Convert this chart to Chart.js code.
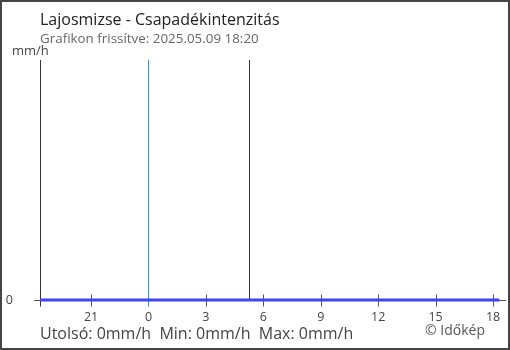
<!DOCTYPE html>
<html>
<head>
<meta charset="utf-8">
<script src="https://cdn.jsdelivr.net/npm/chart.js@4.4.1/dist/chart.umd.min.js"></script>
<style>
  html, body { margin: 0; padding: 0; background: #fff; }
  #wrap { position: relative; width: 510px; height: 350px; font-family: "Open Sans", sans-serif; }
  #frame { position: absolute; left: 0; top: 0; width: 510px; height: 350px; box-sizing: border-box; border: 2px solid #444; pointer-events: none; }
  .txt { position: absolute; line-height: 1; white-space: pre; }
</style>
</head>
<body>
<div id="wrap">
  <canvas id="chart" width="510" height="350"></canvas>
  <div class="txt" style="left:40px; top:11px; font-size:16px; color:#222;">Lajosmizse - Csapadékintenzitás</div>
  <div class="txt" style="left:40px; top:32px; font-size:13.4px; color:#666;">Grafikon frissítve: 2025.05.09 18:20</div>
  <div class="txt" style="left:12px; top:43.5px; font-size:13px; color:#444;">mm/h</div>
  <div class="txt" style="left:40px; top:325px; font-size:16px; color:#444;">Utolsó: 0mm/h  Min: 0mm/h  Max: 0mm/h</div>
  <div class="txt" style="left:425px; top:322.5px; font-size:14px; color:#555;">© Időkép</div>
  <div id="frame"></div>
</div>
<script>
// hours relative to midnight of 2025.05.09 (negative = previous day)
const hours = [-5.667, -5, -4, -3, -2, -1, 0, 1, 2, 3, 4, 5, 6, 7, 8, 9, 10, 11, 12, 13, 14, 15, 16, 17, 18, 18.333];
const rain = [0, 0, 0, 0, 0, 0, 0, 0, 0, 0, 0, 0, 0, 0, 0, 0, 0, 0, 0, 0, 0, 0, 0, 0, 0, 0];
const tickHours = [-3, 0, 3, 6, 9, 12, 15, 18];
const tickLabels = ["21", "0", "3", "6", "9", "12", "15", "18"];
const midnight = 0;
const sunrise = 5.23;

const axisLines = {
  id: "axisLines",
  beforeDatasetsDraw(chart) {
    const ctx = chart.ctx;
    const x = chart.scales.x;
    const a = chart.chartArea;
    const y0 = Math.round(a.bottom) + 0.5;
    ctx.save();
    ctx.lineWidth = 1;
    // x axis line
    ctx.strokeStyle = "#555";
    ctx.beginPath();
    ctx.moveTo(34, y0);
    ctx.lineTo(506, y0);
    ctx.stroke();
    // x ticks on both sides
    tickHours.forEach(h => {
      const px = Math.round(x.getPixelForValue(h)) + 0.5;
      ctx.beginPath();
      ctx.moveTo(px, y0 - 6);
      ctx.lineTo(px, y0 + 6);
      ctx.stroke();
    });
    // y axis line
    ctx.strokeStyle = "#333";
    ctx.beginPath();
    ctx.moveTo(Math.round(a.left) + 0.5, a.top);
    ctx.lineTo(Math.round(a.left) + 0.5, y0 + 6);
    ctx.stroke();
    // midnight
    let px = Math.round(x.getPixelForValue(midnight)) + 0.5;
    ctx.strokeStyle = "#1f9be6";
    ctx.beginPath();
    ctx.moveTo(px, a.top);
    ctx.lineTo(px, y0 + 6);
    ctx.stroke();
    // sunrise
    px = Math.round(x.getPixelForValue(sunrise)) + 0.5;
    ctx.strokeStyle = "#333";
    ctx.beginPath();
    ctx.moveTo(px, a.top);
    ctx.lineTo(px, y0);
    ctx.stroke();
    ctx.restore();
  }
};

new Chart(document.getElementById("chart"), {
  type: "line",
  data: {
    datasets: [{
      data: hours.map((h, i) => ({ x: h, y: rain[i] })),
      borderColor: "rgb(64, 64, 255)",
      borderWidth: 3,
      pointRadius: 0,
      tension: 0,
      clip: false
    }]
  },
  options: {
    responsive: false,
    animation: false,
    layout: { padding: { left: 0, top: 60, right: 10.6, bottom: 0 } },
    plugins: { legend: { display: false }, tooltip: { enabled: false } },
    scales: {
      x: {
        type: "linear",
        min: -5.667,
        max: 18.333,
        grid: { display: false },
        border: { display: false },
        afterBuildTicks: s => { s.ticks = tickHours.map(v => ({ value: v })); },
        afterFit: s => { s.height = 50; },
        ticks: {
          autoSkip: false,
          maxRotation: 0,
          padding: 2,
          color: "#444",
          font: { family: "Open Sans", size: 12.5 },
          callback: (v) => tickLabels[tickHours.indexOf(v)]
        }
      },
      y: {
        min: 0,
        max: 1,
        grid: { drawOnChartArea: false, tickLength: 6, color: "#333" },
        border: { display: false },
        afterBuildTicks: s => { s.ticks = [{ value: 0 }]; },
        afterFit: s => { s.width = 40; },
        ticks: {
          padding: 21,
          color: "#444",
          font: { family: "Open Sans", size: 12.5 }
        }
      }
    }
  },
  plugins: [axisLines]
});
</script>
</body>
</html>
